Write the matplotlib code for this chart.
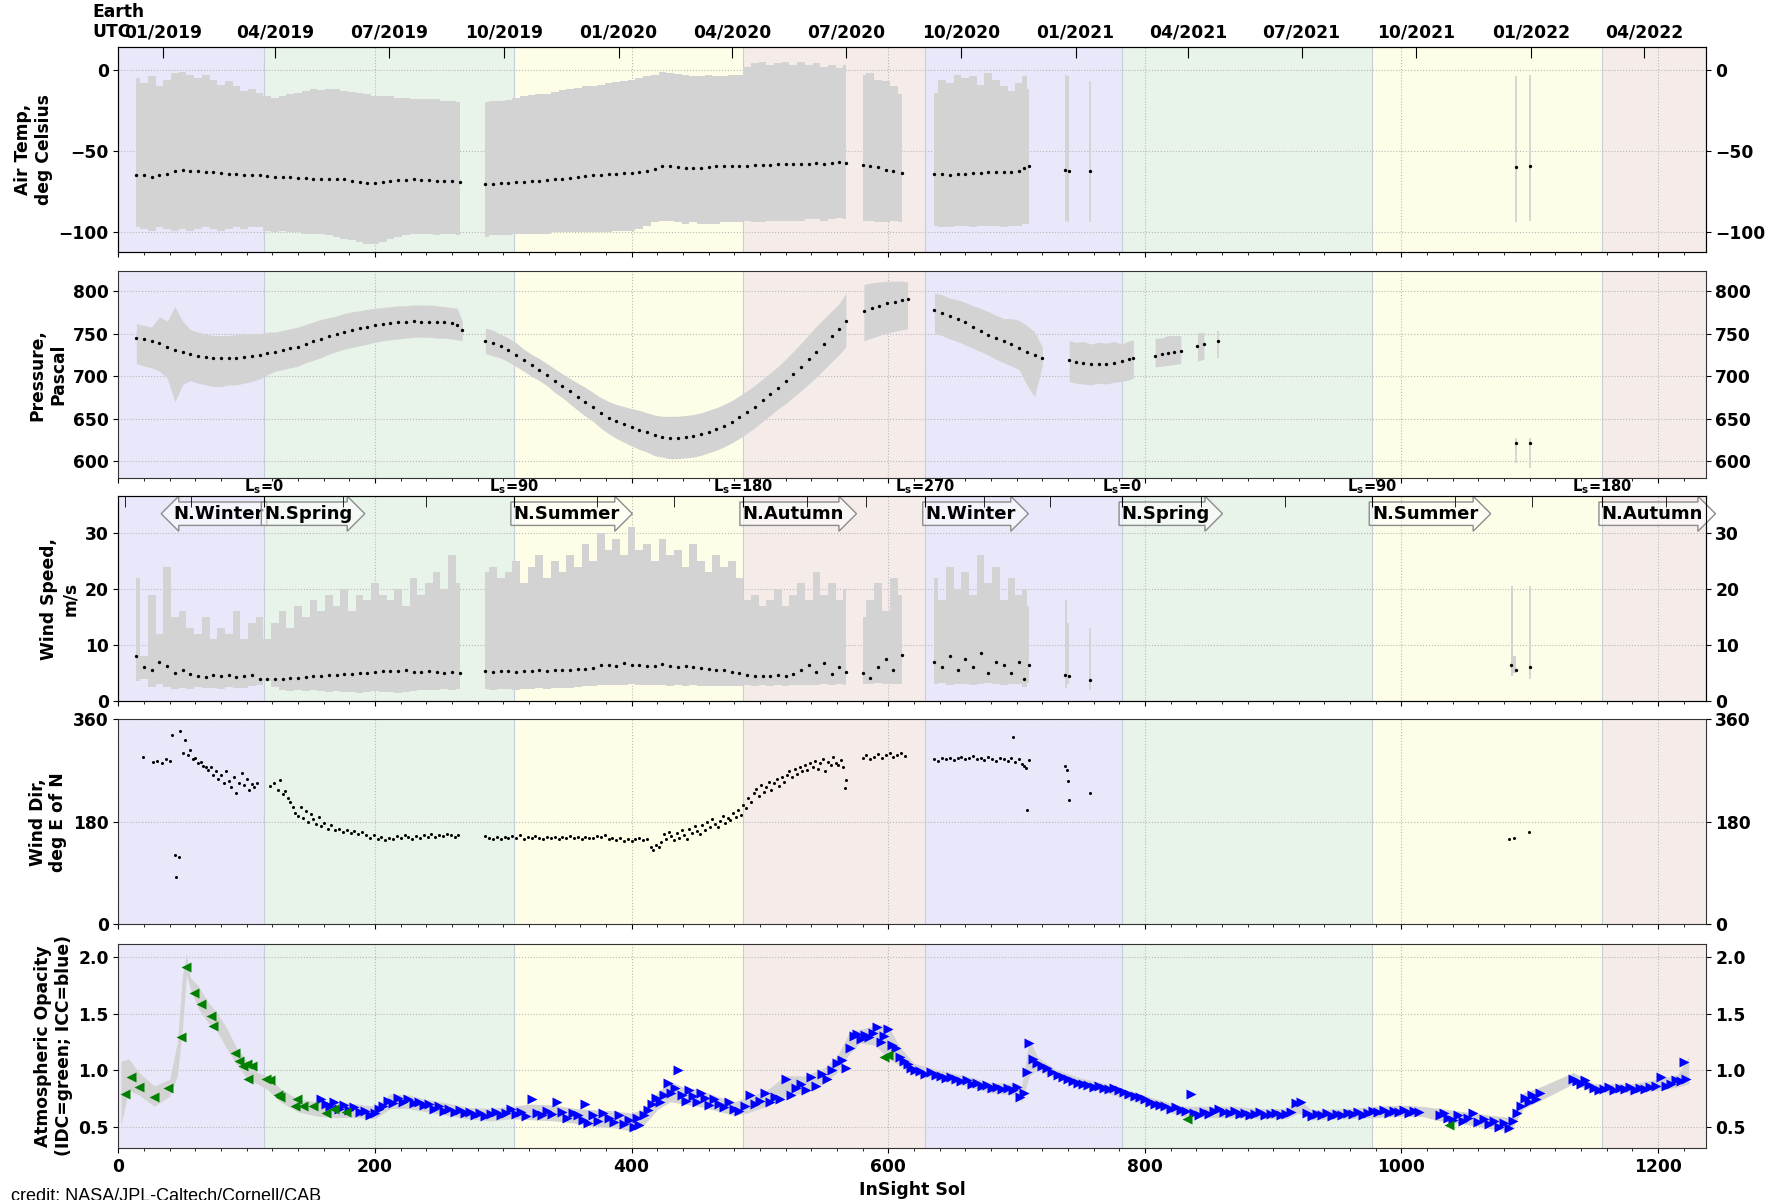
import numpy as np
import matplotlib
matplotlib.use("Agg")
import matplotlib.pyplot as plt
from matplotlib.ticker import MultipleLocator, FormatStrFormatter
from datetime import datetime

# ------------------------------------------------------------------ data
season_edges = [0, 113.5, 308, 486.5, 629, 782, 977, 1156, 1237]
season_colors = ['#e8e8fa', '#e8f3e9', '#fefee8', '#f5ecea',
                 '#e8e8fa', '#e8f3e9', '#fefee8', '#f5ecea']
season_names = ['N.Winter', 'N.Spring', 'N.Summer', 'N.Autumn',
                'N.Winter', 'N.Spring', 'N.Summer', 'N.Autumn']
ls_major_sols = [113.5, 308, 486.5, 629, 782, 977, 1156]
ls_major_vals = [0, 90, 180, 270, 0, 90, 180]
ls_minor_sols = [5.5, 56.5, 175, 240, 373, 433, 537, 583, 675, 726,
                 844, 909, 1042, 1102, 1206]
date_labels = ['01/2019', '04/2019', '07/2019', '10/2019', '01/2020', '04/2020',
               '07/2020', '10/2020', '01/2021', '04/2021', '07/2021', '10/2021',
               '01/2022', '04/2022']

# --- air temperature (deg C)
temp_sol = [14, 20, 26, 32, 38, 44, 50, 56, 62, 68, 74, 80, 86, 92, 98, 104, 110, 116, 122, 128,
            134, 140, 146, 152, 158, 164, 170, 176, 182, 188, 194, 200, 206, 212, 218, 224, 230,
            236, 242, 248, 254, 260, 266,
            286, 292, 298, 304, 310, 316, 322, 328, 334, 340, 346, 352, 358, 364, 370, 376, 382,
            388, 394, 400, 406, 412, 418, 424, 430, 436, 442, 448, 454, 460, 466, 472, 478, 484,
            490, 496, 502, 508, 514, 520, 526, 532, 538, 544, 550, 556, 562, 567,
            580, 586, 592, 598, 604, 611,
            636, 642, 648, 654, 660, 666, 672, 678, 684, 690, 696, 702, 706, 710,
            738, 741, 757, 1089, 1100]
temp_avg = [-65, -65, -66, -65, -64, -62, -61.5, -62, -62.5, -63, -63, -63.5, -64, -64, -64.5, -65,
            -64.5, -65.5, -66, -66, -66, -66.5, -66.5, -67, -67, -67, -67.5, -67.5, -68.5, -69,
            -69.5, -69.5, -69, -68.5, -68, -68, -67.5, -68, -68, -68.5, -68.5, -68.5, -69,
            -70, -70, -69.5, -69.5, -69, -69, -68.5, -68.5, -68, -67.5, -67, -66.5, -66, -65.5,
            -65, -64.5, -64, -64, -63.5, -63.5, -63, -62.5, -61, -59.5, -59.5, -60, -60.5, -60.5,
            -60.5, -60, -59.5, -59, -59, -59, -59, -58.5, -58.5, -58.5, -58, -58, -58, -58, -58,
            -57.5, -58, -57.5, -57, -57.5,
            -58.5, -59, -60, -61.5, -62.5, -63.5,
            -64, -64, -64.5, -64, -64, -63.5, -63.5, -63, -63, -63, -63, -62, -60.5, -59.5,
            -61.5, -62.5, -62.5, -60, -59.5]
temp_max = [-5, -8, -4, -10, -6, -2, -1, -3, -5, -3, -6, -9, -7, -10, -13, -12, -14, -16, -17, -16,
            -15, -14, -13, -12, -12.5, -12, -12, -13, -13.5, -14, -15, -16, -16, -16, -17, -17.5,
            -18, -18, -18, -18, -19, -19, -20,
            -20, -19, -19, -18.5, -17, -16, -15.5, -15, -14.5, -13.5, -12.5, -12, -11, -10, -10,
            -9, -8, -7.5, -7, -6, -5, -4, -3, -1, -2, -2.5, -3, -3.5, -3.5, -3, -3.5, -3.5, -3,
            -3, 2, 4, 5, 3, 4, 5, 3, 5, 3, 4, 2, 3, 1, 3,
            -3, -2, -6, -7, -10, -15,
            -14, -6, -8, -3, -5, -4, -9, -2, -6, -10, -13, -8, -4, -12,
            -3, -4, -7, -4, -3]
temp_min = [-97, -98, -99, -97, -98, -99, -98, -99, -98, -97, -98, -99, -98, -97, -98, -97, -97,
            -99, -100, -99, -100, -100, -101, -101, -101, -102, -103, -104, -105, -106, -107,
            -107, -106, -104, -103, -102, -101, -101, -101, -102, -101, -101, -102,
            -103, -102, -102, -102, -101, -101, -101, -101, -101, -100, -100, -100, -100, -100,
            -100, -100, -100, -99, -99, -99, -98, -96, -94, -93, -93, -94, -95, -94, -95, -95,
            -95, -94, -94, -94, -93, -94, -94, -93, -93, -93, -93, -93, -92, -92, -93, -92, -91,
            -92,
            -93, -93, -94, -94, -93, -94,
            -96, -97, -97, -96, -96, -97, -96, -96, -96, -97, -96, -96, -95, -95,
            -93, -94, -94, -94, -93]

# --- pressure (Pa)
pres_sol = [14, 20, 26, 32, 38, 44, 50, 56, 62, 68, 74, 80, 86, 92, 98, 104, 110, 116, 122, 128,
            134, 140, 146, 152, 158, 164, 170, 176, 182, 188, 194, 200, 206, 212, 218, 224, 230,
            236, 242, 248, 254, 260, 264, 268,
            286, 292, 298, 304, 310, 316, 322, 328, 334, 340, 346, 352, 358, 364, 370, 376, 382,
            388, 394, 400, 406, 412, 418, 424, 430, 436, 442, 448, 454, 460, 466, 472, 478, 484,
            490, 496, 502, 508, 514, 520, 526, 532, 538, 544, 550, 556, 562, 567,
            581, 587, 593, 599, 605, 611, 615,
            636, 642, 648, 654, 660, 666, 672, 678, 684, 690, 696, 702, 708, 714, 720,
            741, 746, 752, 758, 764, 770, 776, 782, 788, 791,
            808, 813, 818, 823, 828, 841, 846, 857, 1089, 1100]
pres_avg = [745, 744, 741, 739.5, 735, 731, 729, 726.5, 724.5, 723, 722, 721, 721.5, 722, 722.5,
            724, 725, 727, 729, 731, 733, 735, 738, 741, 744, 747, 750, 752.5, 755, 757, 758.5,
            760, 761, 762.5, 763.5, 764.5, 765, 764.5, 764.5, 764, 763.5, 762.5, 760, 754,
            742, 739, 735.5, 731, 725.5, 719, 713, 708, 702, 695, 689, 682.5, 676, 670, 664, 657,
            651.5, 647, 643.5, 640, 637, 634, 630.5, 629, 628, 628, 629, 630, 632, 635, 638, 642,
            646.5, 652, 658, 664.5, 672, 679, 686.5, 694, 702.5, 711, 720, 729, 738, 747, 756, 765,
            776.5, 780, 783, 786, 788, 790, 790.5,
            778, 774, 770.5, 767, 763.5, 758, 753, 748.5, 745, 741.5, 738, 733, 729, 725, 721,
            719.5, 717, 716, 715, 714.5, 715, 716, 718, 720, 721.5,
            724, 726, 727.5, 728.5, 730, 736, 738, 742, 621, 621]
pres_max = [762, 760, 758, 770, 765, 782, 765, 755, 752, 750, 748, 748, 748, 749, 750, 750, 750,
            752, 752, 754, 756, 758, 761, 764, 767, 769, 771, 774, 776, 777, 779, 780, 781, 782,
            783, 783, 784, 784, 784, 783, 782, 781, 780, 765,
            757, 754, 749.5, 745, 739.5, 732, 726, 721, 715, 709, 703, 697.5, 692, 687, 681, 675,
            670.5, 667, 664.5, 662, 660, 657, 654.5, 653, 653, 653, 654, 655, 657, 660, 663, 667,
            671.5, 677, 683, 689.5, 697, 704, 711.5, 720, 729.5, 739, 749, 759, 768, 777, 786, 798,
            808, 810, 811, 812, 812, 812, 811,
            798, 796, 792, 790, 787, 783, 780, 776, 772, 768, 768, 766, 760, 752, 735,
            742, 740, 741, 738, 740, 739, 741, 738, 742, 743,
            745, 745, 748, 748, 748, 751, 752, 753, 628, 628]
pres_min = [715, 712, 710, 706, 698, 670, 690, 695, 692, 690, 688, 688, 690, 690, 692, 694, 697,
            702, 706, 708, 710, 712, 716, 719, 722, 726, 729, 732, 734, 736, 738, 740, 742, 743,
            744, 745, 746, 746, 746, 745, 745, 744, 743, 742,
            727, 724, 721.5, 717, 711.5, 706, 700, 695, 689, 681, 675, 667.5, 660, 653, 647, 639,
            632.5, 627, 622.5, 618, 614, 611, 606.5, 605, 603, 603, 604, 605, 607, 610, 613, 617,
            621.5, 627, 633, 639.5, 647, 654, 661.5, 668, 675.5, 683, 691, 699, 708, 717, 726, 735,
            742, 745, 748, 751, 753, 755, 756,
            750, 748, 744, 741, 737, 733, 729, 725, 720, 716, 712, 708, 690, 676, 712,
            694, 692, 691, 690, 692, 691, 693, 694, 696, 698,
            711, 712, 713, 714, 715, 718, 720, 721, 598, 592]

# --- wind speed (m/s)
wind_sol = temp_sol[:-5] + [738, 741, 757, 1085, 1089, 1100]
wind_avg = [8.0, 6.0, 5.6, 7.0, 6.2, 5.0, 5.5, 4.8, 4.5, 4.3, 4.7, 4.4, 4.6, 4.3, 4.5, 4.7, 4.0,
            3.9, 4.0, 4.0, 4.2, 4.2, 4.3, 4.4, 4.5, 4.6, 4.7, 4.8, 4.9, 5.0, 5.0, 5.1, 5.3, 5.4,
            5.3, 5.5, 5.2, 5.1, 5.4, 5.2, 5.0, 5.1, 5.0,
            5.3, 5.2, 5.4, 5.3, 5.2, 5.4, 5.3, 5.5, 5.4, 5.5, 5.6, 5.5, 5.7, 5.8, 5.9, 6.4, 6.5,
            6.2, 6.8, 6.5, 6.4, 6.2, 6.3, 6.6, 6.2, 6.0, 6.3, 6.1, 5.9, 5.8, 5.6, 5.5, 5.2, 5.0,
            4.6, 4.5, 4.5, 4.4, 4.6, 4.5, 4.8, 5.5, 6.5, 5.2, 6.8, 4.9, 6.0, 5.2,
            5.0, 4.2, 6.0, 7.5, 5.5, 8.2,
            7.0, 6.0, 8.0, 5.5, 7.5, 6.0, 8.5, 5.0, 7.0, 6.5, 5.0, 7.0, 4.0, 6.5,
            4.6, 4.4, 3.8, 6.4, 5.6, 6.0]
wind_max = [22, 8, 19, 12, 24, 15, 16, 13, 12, 15, 11, 13, 12, 16, 11, 14, 15, 11, 14, 16,
            13, 17, 15, 18, 16, 19, 17, 20, 16, 19, 18, 21, 19, 18, 20, 17, 22, 19, 21, 23,
            20, 26, 21,
            23, 24, 22, 23, 25, 21, 24, 26, 22, 25, 23, 26, 24, 28, 25, 30, 27, 29, 26, 31,
            27, 28, 25, 29, 26, 27, 24, 28, 25, 23, 26, 24, 25, 22, 18, 19, 17, 18, 20, 17,
            19, 21, 18, 23, 19, 21, 18, 20,
            15, 18, 21, 16, 22, 19,
            22, 18, 24, 20, 23, 19, 26, 21, 24, 18, 22, 19, 20, 17,
            18, 14, 13, 20.5, 8, 20.5]
wind_min = [3.5, 4, 2.5, 3, 2.5, 2.2, 2.3, 2.2, 2.5, 2.3, 2.4, 2.2, 2.5, 2.3, 2.4, 2.6, 2.8, 3.5,
            2.5, 2.0, 1.8, 1.9, 1.8, 2.0, 1.8, 1.7, 1.8, 1.6, 1.7, 1.5, 1.6, 1.8, 1.7, 1.6, 1.5,
            1.7, 1.8, 1.9, 2.0, 2.0, 2.1, 2.0, 2.1,
            2.1, 2.0, 2.2, 2.1, 2.0, 2.2, 2.1, 2.3, 2.2, 2.3, 2.4, 2.3, 2.5, 2.6, 2.7, 2.8, 2.9,
            2.8, 2.9, 3.0, 2.9, 2.8, 2.9, 2.8, 2.7, 2.8, 2.7, 2.8, 2.7, 2.6, 2.7, 2.6, 2.6, 2.7,
            2.8, 2.7, 2.8, 2.7, 2.8, 2.7, 2.8, 2.9, 2.8, 2.9, 3.0, 2.9, 3.0, 2.9,
            3.0, 3.0, 3.2, 3.0, 3.1, 3.0,
            3.0, 3.2, 2.8, 3.0, 3.1, 2.9, 3.0, 3.2, 3.0, 2.8, 3.0, 3.0, 2.5, 3.2,
            2.4, 3.0, 2.0, 4.5, 5.0, 4.0]

# --- wind direction (deg E of N), (sol, value)
wdir_a = [(19, 293), (27, 284), (30, 286), (34, 283), (37, 289), (40, 286), (42, 331), (44, 122),
          (45, 83), (47, 118), (48, 339), (50, 300), (52, 323), (54, 297), (56, 305), (58, 289),
          (60, 292), (62, 282), (64, 285), (66, 278), (68, 276), (70, 270), (72, 275), (74, 262),
          (76, 268), (78, 255), (80, 262), (82, 248), (84, 268), (86, 252), (88, 240), (90, 258),
          (92, 231), (94, 248), (96, 265), (98, 244), (100, 255), (102, 236), (104, 246),
          (106, 240), (108, 248)]
wdir_b = [(118, 242), (121, 248), (124, 236), (126, 253), (128, 229), (130, 233), (132, 221),
          (134, 214), (136, 205), (138, 196), (140, 190), (142, 205), (144, 186), (146, 198),
          (148, 180), (150, 193), (152, 185), (154, 176), (156, 188), (158, 172), (160, 178),
          (163, 168), (166, 174), (169, 165), (172, 168), (175, 162), (178, 166), (181, 160),
          (184, 164), (187, 158), (190, 162), (193, 156), (196, 152), (199, 157), (202, 150),
          (205, 154), (208, 148), (211, 152), (214, 149), (217, 155), (220, 151), (223, 157),
          (226, 153), (229, 150), (232, 155), (235, 152), (238, 156), (241, 153), (244, 158),
          (247, 154), (250, 157), (253, 155), (256, 159), (259, 156), (262, 154), (265, 157)]
wdir_c = [(286, 155), (289, 152), (292, 150), (295, 154), (298, 149), (301, 153), (304, 151),
          (307, 155), (310, 152), (313, 156), (316, 150), (319, 153), (322, 151), (325, 155),
          (328, 152), (331, 150), (334, 154), (337, 151), (340, 153), (343, 150), (346, 154),
          (349, 152), (352, 155), (355, 151), (358, 153), (361, 150), (364, 154), (367, 152),
          (370, 151), (373, 155), (376, 153), (379, 156), (382, 150), (385, 152), (388, 148),
          (391, 151), (394, 147), (397, 150), (400, 146), (403, 149), (406, 151), (409, 148),
          (412, 150), (415, 136), (417, 130), (419, 140), (421, 135), (423, 145), (425, 158),
          (427, 150), (429, 162), (431, 155), (433, 148), (435, 160), (437, 152), (439, 165),
          (441, 157), (443, 150), (445, 168), (447, 160), (449, 172), (451, 163), (453, 158),
          (455, 175), (457, 166), (459, 180), (461, 170), (463, 185), (465, 176), (467, 170),
          (469, 182), (471, 190), (473, 178), (475, 187), (477, 183), (479, 195), (481, 188),
          (483, 200), (485, 192), (487, 210), (489, 204), (491, 221), (493, 215), (495, 230),
          (497, 238), (499, 225), (501, 245), (503, 232), (505, 240), (507, 250), (509, 236),
          (511, 247), (513, 255), (515, 242), (517, 258), (519, 250), (521, 262), (523, 268),
          (525, 258), (527, 272), (529, 264), (531, 276), (533, 268), (535, 280), (537, 271),
          (539, 283), (541, 276), (543, 286), (545, 272), (547, 282), (549, 290), (551, 268),
          (553, 285), (555, 279), (557, 293), (559, 283), (561, 280), (563, 288), (565, 275),
          (566, 239), (567, 253)]
wdir_d = [(580, 292), (583, 296), (586, 289), (589, 294), (592, 298), (595, 291), (598, 296),
          (601, 300), (604, 293), (607, 297), (610, 301), (613, 295)]
wdir_e = [(636, 290), (639, 287), (642, 291), (645, 289), (648, 292), (651, 288), (654, 291),
          (657, 293), (660, 289), (663, 292), (666, 295), (669, 290), (672, 292), (675, 288),
          (678, 294), (681, 290), (684, 287), (687, 291), (690, 289), (693, 286), (696, 292),
          (697, 329), (699, 285), (702, 290), (704, 281), (706, 277), (707, 274), (708, 201),
          (710, 288)]
wdir_f = [(738, 277), (739, 271), (740, 251), (741, 218), (757, 230),
          (1084, 150), (1088, 152), (1099, 162)]

# --- atmospheric opacity
idc_pts = [(5, 0.79), (10, 0.94), (16, 0.85), (28, 0.76), (39, 0.84), (49, 1.29), (53, 1.91),
           (59, 1.68), (64, 1.59), (72, 1.48), (74, 1.39), (91, 1.15), (94, 1.08), (97, 1.04),
           (100, 1.05), (101, 0.92), (104, 1.04), (115, 0.92), (118, 0.91), (124, 0.78),
           (126, 0.76), (138, 0.68), (139, 0.74), (144, 0.68), (152, 0.68), (162, 0.62),
           (168, 0.66), (177, 0.63), (597, 1.12), (600, 1.13), (833, 0.57), (1037, 0.51)]
icc_pts = [(158, 0.74), (162, 0.70), (165, 0.68), (168, 0.72), (172, 0.66), (176, 0.69),
           (180, 0.65), (184, 0.67), (188, 0.63), (192, 0.64), (196, 0.60), (200, 0.62),
           (203, 0.66), (206, 0.68), (210, 0.73), (214, 0.71), (218, 0.75), (222, 0.72),
           (226, 0.74), (230, 0.71), (234, 0.72), (238, 0.69), (242, 0.70), (246, 0.66),
           (250, 0.68), (254, 0.64), (258, 0.66), (262, 0.63), (266, 0.65), (270, 0.62),
           (274, 0.63), (278, 0.60), (282, 0.62), (286, 0.59), (290, 0.61), (294, 0.63),
           (298, 0.60), (302, 0.62), (306, 0.66), (310, 0.61), (314, 0.63), (318, 0.59),
           (322, 0.74), (326, 0.62), (330, 0.60), (334, 0.64), (338, 0.61), (342, 0.72),
           (346, 0.63), (350, 0.58), (354, 0.62), (358, 0.60), (362, 0.56), (364, 0.70),
           (366, 0.53), (370, 0.60), (374, 0.55), (378, 0.62), (382, 0.58), (386, 0.54),
           (390, 0.60), (394, 0.52), (398, 0.56), (402, 0.50), (404, 0.58), (406, 0.51),
           (410, 0.60), (413, 0.65), (416, 0.70), (419, 0.75), (422, 0.72), (425, 0.78),
           (428, 0.89), (431, 0.80), (434, 0.84), (436, 1.00), (439, 0.78), (442, 0.73),
           (445, 0.82), (448, 0.77), (451, 0.72), (454, 0.80), (457, 0.75), (460, 0.69),
           (464, 0.74), (468, 0.70), (472, 0.67), (476, 0.72), (480, 0.66), (484, 0.64),
           (488, 0.68), (492, 0.78), (496, 0.70), (500, 0.73), (504, 0.80), (508, 0.72),
           (512, 0.76), (516, 0.74), (520, 0.92), (524, 0.78), (528, 0.84), (532, 0.88),
           (536, 0.82), (540, 0.94), (544, 0.86), (548, 0.97), (552, 0.92), (556, 1.00),
           (560, 1.06), (564, 1.09), (567, 1.02), (570, 1.20), (573, 1.30), (576, 1.32),
           (579, 1.28), (582, 1.31), (585, 1.29), (588, 1.33), (591, 1.38), (594, 1.25),
           (597, 1.30), (600, 1.36), (603, 1.22), (606, 1.20), (609, 1.12), (612, 1.08),
           (615, 1.05), (618, 1.02), (621, 1.00), (625, 0.99), (629, 0.97), (633, 0.98),
           (637, 0.96), (641, 0.95), (645, 0.93), (649, 0.94), (653, 0.92), (657, 0.90),
           (661, 0.91), (665, 0.88), (669, 0.89), (673, 0.86), (677, 0.87), (681, 0.84),
           (685, 0.85), (689, 0.83), (693, 0.84), (697, 0.82), (700, 0.85), (703, 0.76),
           (706, 0.80), (708, 0.98), (710, 1.24), (713, 1.10), (716, 1.06), (720, 1.04),
           (724, 1.02), (728, 0.98), (732, 0.96), (736, 0.94), (740, 0.92), (744, 0.90),
           (748, 0.89), (752, 0.88), (756, 0.87), (760, 0.85), (764, 0.86), (768, 0.84),
           (772, 0.83), (776, 0.84), (780, 0.82), (784, 0.81), (788, 0.79), (792, 0.77),
           (796, 0.76), (800, 0.74), (804, 0.72), (808, 0.70), (812, 0.69), (816, 0.68),
           (820, 0.66), (824, 0.67), (828, 0.65), (832, 0.64), (836, 0.79), (838, 0.62),
           (842, 0.60), (846, 0.63), (850, 0.61), (854, 0.64), (858, 0.66), (862, 0.63),
           (866, 0.62), (870, 0.64), (874, 0.61), (878, 0.62), (882, 0.60), (886, 0.61),
           (890, 0.63), (894, 0.60), (898, 0.61), (902, 0.62), (906, 0.60), (910, 0.61),
           (914, 0.63), (918, 0.71), (922, 0.72), (926, 0.62), (930, 0.59), (934, 0.61),
           (938, 0.60), (942, 0.62), (946, 0.59), (950, 0.61), (954, 0.60), (958, 0.62),
           (962, 0.61), (966, 0.63), (970, 0.60), (974, 0.62), (978, 0.64), (982, 0.63),
           (986, 0.65), (990, 0.62), (994, 0.64), (998, 0.63), (1002, 0.65), (1006, 0.62),
           (1010, 0.64), (1014, 0.63), (1030, 0.60), (1033, 0.62), (1036, 0.58), (1040, 0.56),
           (1044, 0.60), (1048, 0.55), (1052, 0.58), (1056, 0.62), (1060, 0.54), (1064, 0.57),
           (1068, 0.52), (1072, 0.55), (1076, 0.50), (1080, 0.53), (1084, 0.49), (1087, 0.55),
           (1090, 0.62), (1093, 0.68), (1096, 0.75), (1099, 0.72), (1102, 0.78), (1105, 0.74),
           (1108, 0.80), (1134, 0.92), (1137, 0.90), (1140, 0.88), (1143, 0.91), (1146, 0.87),
           (1150, 0.84), (1154, 0.82), (1158, 0.83), (1162, 0.85), (1166, 0.82), (1170, 0.84),
           (1174, 0.83), (1178, 0.85), (1182, 0.82), (1186, 0.84), (1190, 0.83), (1194, 0.85),
           (1198, 0.86), (1202, 0.94), (1206, 0.86), (1210, 0.88), (1214, 0.91), (1218, 0.90),
           (1220, 1.07), (1222, 0.92)]
tau_band = [(2, 0.52, 1.08), (8, 0.82, 1.10), (16, 0.78, 0.98), (28, 0.68, 0.86),
            (40, 0.77, 0.92), (46, 0.95, 1.25), (50, 1.38, 1.85), (53, 1.85, 2.03),
            (56, 1.72, 1.82), (62, 1.55, 1.75), (70, 1.42, 1.60), (76, 1.36, 1.52),
            (84, 1.20, 1.38), (92, 1.05, 1.20), (100, 0.93, 1.08), (108, 0.88, 0.98),
            (116, 0.83, 0.95), (126, 0.72, 0.84), (140, 0.63, 0.74), (156, 0.59, 0.72),
            (170, 0.58, 0.72), (186, 0.58, 0.70), (200, 0.57, 0.68), (212, 0.66, 0.79),
            (226, 0.66, 0.78), (240, 0.63, 0.74), (256, 0.60, 0.71), (272, 0.57, 0.67),
            (290, 0.55, 0.66), (306, 0.57, 0.68), (322, 0.56, 0.70), (340, 0.55, 0.69),
            (356, 0.53, 0.66), (370, 0.50, 0.65), (386, 0.49, 0.64), (400, 0.46, 0.62),
            (410, 0.52, 0.66), (420, 0.65, 0.80), (430, 0.72, 0.90), (440, 0.70, 0.85),
            (452, 0.68, 0.83), (466, 0.64, 0.77), (480, 0.60, 0.72), (490, 0.62, 0.76),
            (505, 0.68, 0.82), (520, 0.77, 0.95), (535, 0.80, 0.95), (550, 0.88, 1.02),
            (560, 0.98, 1.12), (570, 1.15, 1.34), (578, 1.24, 1.36), (590, 1.22, 1.40),
            (600, 1.10, 1.40), (608, 1.05, 1.22), (620, 0.96, 1.06), (640, 0.91, 1.00),
            (660, 0.86, 0.95), (680, 0.80, 0.89), (700, 0.78, 0.88), (704, 0.72, 0.86),
            (710, 0.95, 1.28), (716, 1.00, 1.12), (730, 0.93, 1.01), (750, 0.85, 0.93),
            (770, 0.80, 0.88), (790, 0.73, 0.81), (810, 0.66, 0.74), (830, 0.59, 0.68),
            (850, 0.58, 0.68), (870, 0.58, 0.68), (890, 0.57, 0.66), (910, 0.57, 0.66),
            (920, 0.62, 0.74), (930, 0.56, 0.65), (960, 0.57, 0.66), (980, 0.58, 0.68),
            (1000, 0.59, 0.69), (1016, 0.59, 0.68), (1030, 0.55, 0.66), (1050, 0.52, 0.63),
            (1070, 0.48, 0.60), (1085, 0.46, 0.58), (1095, 0.66, 0.80), (1108, 0.73, 0.85),
            (1134, 0.88, 0.98), (1150, 0.80, 0.88), (1180, 0.80, 0.88), (1200, 0.82, 0.92),
            (1215, 0.85, 0.96), (1224, 0.88, 1.12)]

# ------------------------------------------------------------------ style
plt.rcParams['font.family'] = ['DejaVu Sans']
plt.rcParams['font.weight'] = 'bold'
plt.rcParams['axes.labelweight'] = 'bold'
FS = 12.3
GRAY = '#d3d3d3'
XMAX = 1237

fig = plt.figure(figsize=(17.7, 12), dpi=100)
LEFT, WIDTH = 0.0669, 0.8967
rects = [(0.7903, 0.1703), (0.6014, 0.1728), (0.4158, 0.1708), (0.2296, 0.1713), (0.0433, 0.1703)]
axes = [fig.add_axes([LEFT, b, WIDTH, h]) for b, h in rects]


def band(ax, s, lo, hi, gap, step=None):
    s = np.asarray(s, float); lo = np.asarray(lo, float); hi = np.asarray(hi, float)
    cuts = np.where(np.diff(s) > gap)[0] + 1
    for idx in np.split(np.arange(len(s)), cuts):
        if len(idx) > 1:
            ax.fill_between(s[idx], lo[idx], hi[idx], color=GRAY, lw=0, zorder=1, step=step)
        else:
            ax.vlines(s[idx], lo[idx], hi[idx], color=GRAY, lw=1.3, zorder=1)


for ax in axes:
    for i in range(len(season_colors)):
        ax.axvspan(season_edges[i], season_edges[i + 1], color=season_colors[i], lw=0, zorder=0)
    for e in season_edges[1:-1]:
        ax.axvline(e, color='#c5cfdc', lw=0.8, zorder=0.2)
    ax.set_xlim(0, XMAX)
    ax.xaxis.set_major_locator(MultipleLocator(200))
    ax.xaxis.set_minor_locator(MultipleLocator(20))
    ax.set_axisbelow(True)
    ax.grid(True, which='major', ls=':', color='#b8b8b8', lw=0.8)
    ax.tick_params(axis='x', which='both', direction='out', labelbottom=False)
    ax.tick_params(axis='y', which='both', direction='out', left=True, right=True,
                   labelleft=True, labelright=True, labelsize=FS)
    for sp in ax.spines.values():
        sp.set_color('#333333')

# panel 1: air temperature
ax = axes[0]
band(ax, temp_sol, temp_min, temp_max, 9, step='mid')
ax.plot(temp_sol, temp_avg, 'o', color='k', ms=2.4, mec='none', zorder=3)
ax.set_ylim(-112, 14)
ax.set_yticks([0, -50, -100])
ax.set_ylabel('Air Temp,\ndeg Celsius', fontsize=FS)

# panel 2: pressure
ax = axes[1]
band(ax, pres_sol, pres_min, pres_max, 9)
ax.plot(pres_sol, pres_avg, 'o', color='k', ms=2.4, mec='none', zorder=3)
ax.set_ylim(580, 824)
ax.set_yticks([600, 650, 700, 750, 800])
ax.set_ylabel('Pressure,\nPascal', fontsize=FS)

# panel 3: wind speed
ax = axes[2]
band(ax, wind_sol, wind_min, wind_max, 9, step='mid')
ax.plot(wind_sol, wind_avg, 'o', color='k', ms=2.4, mec='none', zorder=3)
ax.set_ylim(0, 36.6)
ax.set_yticks([0, 10, 20, 30])
ax.set_ylabel('Wind Speed,\nm/s', fontsize=FS)

# panel 4: wind direction
ax = axes[3]
for seg in (wdir_a, wdir_b, wdir_c, wdir_d, wdir_e, wdir_f):
    s, v = zip(*seg)
    ax.plot(s, v, 'o', color='k', ms=2.2, mec='none', zorder=3)
ax.set_ylim(0, 360)
ax.set_yticks([0, 180, 360])
ax.set_ylabel('Wind Dir,\ndeg E of N', fontsize=FS)

# panel 5: opacity
ax = axes[4]
bs, blo, bhi = zip(*tau_band)
band(ax, bs, blo, bhi, 1000)
s, v = zip(*icc_pts)
ax.plot(s, v, '>', color='#0000ff', ms=7, mec='none', zorder=3)
s, v = zip(*idc_pts)
ax.plot(s, v, '<', color='#008000', ms=7, mec='none', zorder=4)
ax.set_ylim(0.31, 2.12)
ax.set_yticks([0.5, 1.0, 1.5, 2.0])
ax.yaxis.set_major_formatter(FormatStrFormatter('%.1f'))
ax.set_ylabel('Atmospheric Opacity\n(IDC=green; ICC=blue)', fontsize=FS)
ax.tick_params(axis='x', which='major', labelbottom=True, labelsize=FS)
ax.set_xlabel('InSight Sol', fontsize=12.5)

# top axis: Earth dates
landing = datetime(2018, 11, 26, 12)
date_sols = [(datetime(int(d[3:]), int(d[:2]), 1) - landing).total_seconds() / 88775.244
             for d in date_labels]
axd = axes[0].twiny()
axd.set_xlim(0, XMAX)
axd.set_xticks(date_sols)
axd.set_xticklabels(date_labels)
axd.tick_params(axis='x', direction='in', length=8, top=True, labeltop=True,
                bottom=False, labelbottom=False, labelsize=FS, pad=4)
fig.text(92 / 1770, 1 - 22 / 1200, 'Earth\nUTC', fontsize=FS, fontweight='bold',
         ha='left', va='center', linespacing=1.12)

# Ls axis on wind-speed panel
axl = axes[2].twiny()
axl.set_xlim(0, XMAX)
axl.set_xticks(ls_major_sols)
axl.set_xticklabels([r'L$_\mathbf{s}$=%d' % v for v in ls_major_vals])
axl.set_xticks(ls_minor_sols, minor=True)
axl.tick_params(axis='x', which='both', direction='in', length=8, top=True, labeltop=True,
                bottom=False, labelbottom=False, labelsize=10.5, pad=0)

# season arrows
trans = axes[2].get_xaxis_transform()
for i, name in enumerate(season_names):
    if i == 0:
        x, ha, style = season_edges[1], 'right', 'larrow,pad=0.15'
    else:
        x, ha, style = season_edges[i], 'left', 'rarrow,pad=0.15'
    axes[2].text(x, 0.914, name, transform=trans, ha=ha, va='center', fontsize=13,
                 fontweight='bold', zorder=6,
                 bbox=dict(boxstyle=style, fc=(1, 1, 1, 0.55), ec='#8c8c8c', lw=1))

fig.text(0.006, -0.001, 'credit: NASA/JPL-Caltech/Cornell/CAB', fontsize=13,
         fontweight='normal', family=['Liberation Sans', 'DejaVu Sans'], va='baseline')

fig.savefig('out.png', dpi=100)
